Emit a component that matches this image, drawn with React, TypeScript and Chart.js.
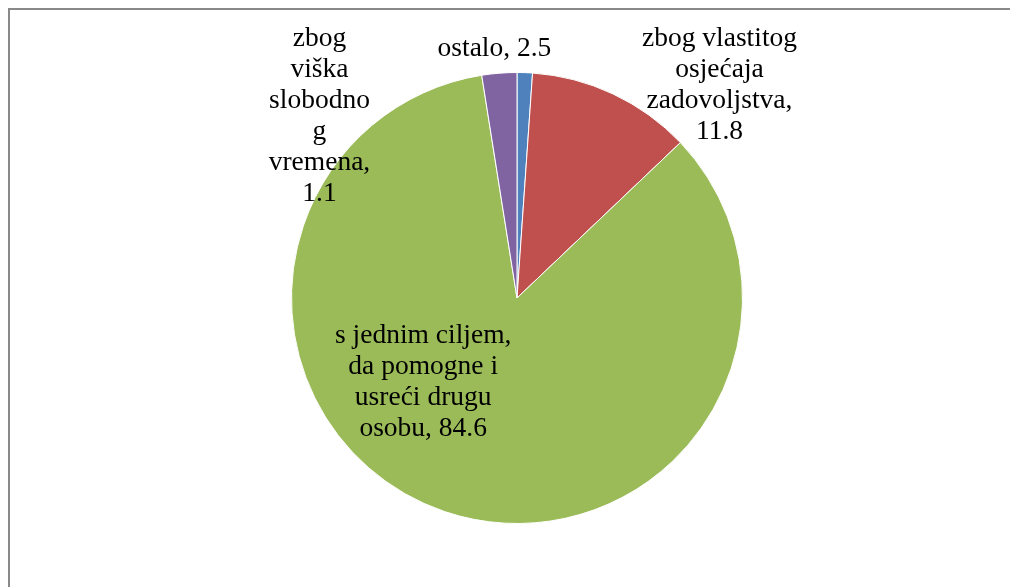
import React, { useEffect, useRef } from "react";
import { Chart, registerables } from "chart.js";

Chart.register(...registerables);

const categories = [
  "zbog viška slobodnog vremena",
  "zbog vlastitog osjećaja zadovoljstva",
  "s jednim ciljem, da pomogne i usrećiti drugu osobu",
  "ostalo",
];
const values = [1.1, 11.8, 84.6, 2.5];
const colors = ["#4F81BD", "#C0504D", "#9BBB59", "#8064A2"];
// wrapped data-label text, {v} replaced by the value
const labelTemplates = [
  "zbog\nviška\nslobodno\ng\nvremena,\n{v}",
  "zbog vlastitog\nosjećaja\nzadovoljstva,\n{v}",
  "s jednim ciljem,\nda pomogne i\nusreći drugu\nosobu, {v}",
  "ostalo, {v}",
];
// label block centre relative to pie centre, in units of the radius
const labelOffsets = [
  [-0.876, -0.805],
  [0.898, -0.945],
  [-0.416, 0.373],
  [-0.1, -1.103],
];

const labelPlugin = {
  id: "pieLabels",
  afterDatasetsDraw(chart: any) {
    const meta = chart.getDatasetMeta(0);
    const ctx = chart.ctx;
    ctx.save();
    ctx.font = '27.5px "Liberation Serif"';
    ctx.fillStyle = "#000";
    ctx.textAlign = "center";
    ctx.textBaseline = "middle";
    const lineH = 31;
    meta.data.forEach((arc: any, i: number) => {
      const r = arc.outerRadius;
      const cx = arc.x + labelOffsets[i][0] * r;
      const cy = arc.y + labelOffsets[i][1] * r;
      const lines = labelTemplates[i].replace("{v}", values[i].toFixed(1)).split("\n");
      const top = cy - ((lines.length - 1) * lineH) / 2;
      lines.forEach((ln, k) => ctx.fillText(ln, cx, top + k * lineH));
    });
    ctx.restore();
  },
};

export default function App() {
  const ref = useRef<HTMLCanvasElement>(null);
  useEffect(() => {
    const prev = document.documentElement.style.overflow;
    document.documentElement.style.overflow = "hidden";
    const chart = new Chart(ref.current!, {
      type: "pie",
      data: {
        labels: categories,
        datasets: [
          {
            data: values,
            backgroundColor: colors,
            borderColor: "#ffffff",
            borderWidth: 1,
          },
        ],
      },
      options: {
        responsive: false,
        animation: false,
        devicePixelRatio: 1,
        layout: { padding: { left: 14, right: 8, top: 62, bottom: 63 } },
        plugins: { legend: { display: false }, tooltip: { enabled: false } },
      },
      plugins: [labelPlugin],
    });
    return () => {
      chart.destroy();
      document.documentElement.style.overflow = prev;
    };
  }, []);
  return (
    <div
      style={{
        width: 1008,
        height: 577,
        borderLeft: "2px solid #898989",
        borderTop: "2px solid #898989",
        background: "#fff",
      }}
    >
      <canvas ref={ref} width={1008} height={577} style={{ display: "block" }} />
    </div>
  );
}
